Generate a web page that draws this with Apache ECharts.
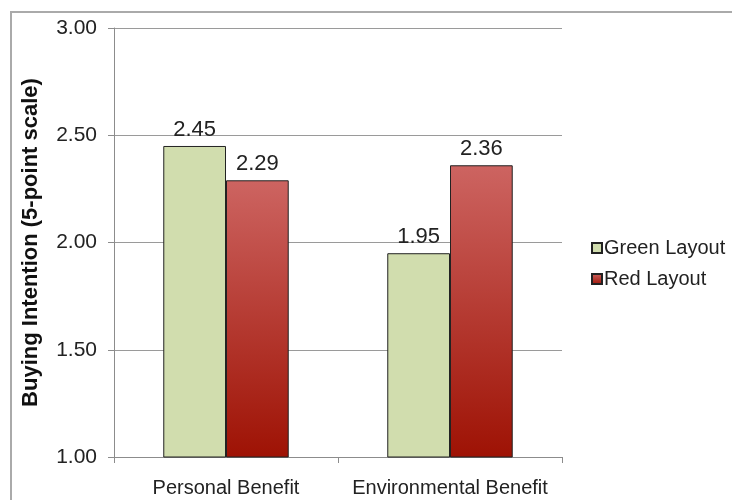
<!DOCTYPE html>
<html>
<head>
<meta charset="utf-8">
<script src="https://cdn.jsdelivr.net/npm/echarts@6/dist/echarts.min.js"></script>
<style>
  html, body { margin: 0; padding: 0; background: #fff; }
  #chart { width: 732px; height: 500px; }
</style>
</head>
<body>
<div id="chart"></div>
<script>
// categories and values
var categories = ['Personal Benefit', 'Environmental Benefit'];
var seriesNames = ['Green Layout', 'Red Layout'];
var greenValues = [2.45, 1.95];
var redValues = [2.29, 2.36];

var fontFamily = 'Liberation Sans, Arial, sans-serif';

var redFill = new echarts.graphic.LinearGradient(0, 0, 0, 1, [
    { offset: 0, color: '#cd6461' },
    { offset: 1, color: '#9e1204' }
]);

function valueLabel() {
    return {
        show: true,
        position: 'top',
        distance: 5,
        fontSize: 22,
        color: '#222',
        formatter: function (p) { return p.value.toFixed(2); }
    };
}

var chart = echarts.init(document.getElementById('chart'));

var option = {
    animation: false,
    textStyle: { fontFamily: fontFamily },
    graphic: [
        {
            // thin frame round the picture
            type: 'rect',
            shape: { x: 11, y: 12, width: 800, height: 600 },
            style: { fill: 'none', stroke: '#aaaaaa', lineWidth: 2 },
            silent: true
        }
    ],
    grid: { left: 114, right: 170, top: 28, bottom: 43 },
    legend: {
        orient: 'vertical',
        left: 586,
        top: 233,
        icon: 'rect',
        itemWidth: 10,
        itemHeight: 10,
        itemGap: 11,
        textStyle: { fontSize: 20, color: '#222', padding: [0, 0, 0, -3] },
        data: seriesNames
    },
    xAxis: {
        type: 'category',
        data: categories,
        axisLine: { lineStyle: { color: '#8c8c8c', width: 1 } },
        axisTick: { show: true, length: 6, lineStyle: { color: '#8c8c8c' } },
        axisLabel: { fontSize: 20, color: '#222', margin: 21, interval: 0, hideOverlap: false }
    },
    yAxis: {
        type: 'value',
        min: 1,
        max: 3,
        interval: 0.5,
        name: 'Buying Intention (5-point scale)',
        nameLocation: 'middle',
        nameGap: 72,
        nameTextStyle: { fontSize: 22, fontWeight: 'bold', color: '#111' },
        axisLine: { show: true, lineStyle: { color: '#8c8c8c', width: 1 } },
        axisTick: { show: true, length: 6, lineStyle: { color: '#8c8c8c' } },
        axisLabel: {
            fontSize: 21,
            color: '#222',
            margin: 17,
            formatter: function (v) { return v.toFixed(2); }
        },
        splitLine: { lineStyle: { color: '#9a9a9a', width: 1 } }
    },
    series: [
        {
            name: seriesNames[0],
            type: 'bar',
            data: greenValues,
            barGap: '0%',
            barCategoryGap: '44%',
            itemStyle: { color: '#d1ddae', borderColor: '#222', borderWidth: 1 },
            label: valueLabel()
        },
        {
            name: seriesNames[1],
            type: 'bar',
            data: redValues,
            barGap: '0%',
            barCategoryGap: '44%',
            itemStyle: { color: redFill, borderColor: '#222', borderWidth: 1 },
            label: valueLabel()
        }
    ]
};

chart.setOption(option);
</script>
</body>
</html>
